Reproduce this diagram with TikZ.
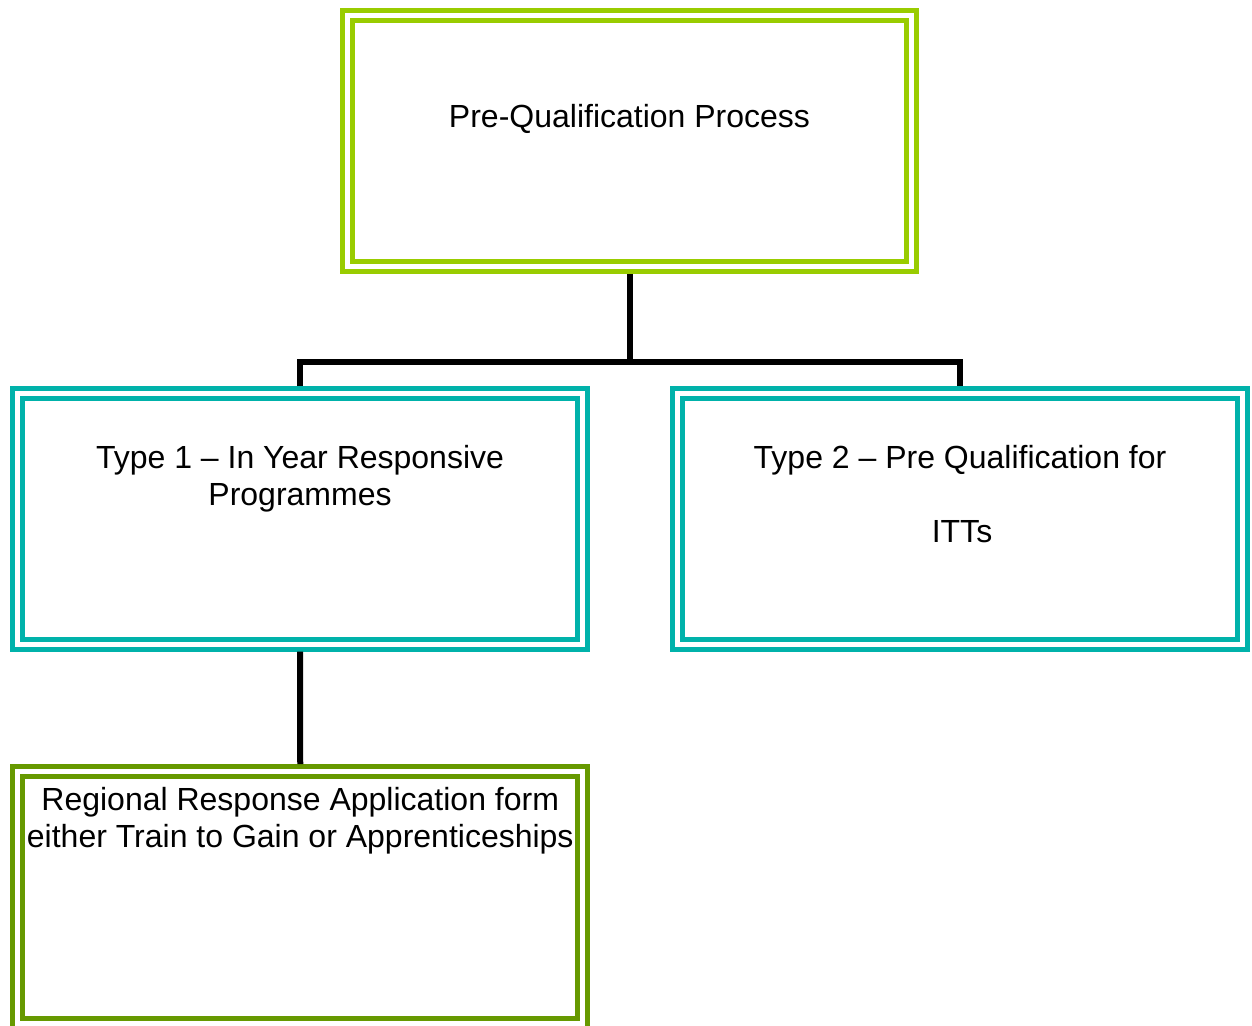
\documentclass[tikz,border=0pt]{standalone}
\usepackage{fontspec}
\setmainfont{Liberation Sans}
\definecolor{limegreen}{HTML}{99CC00}
\definecolor{tealbox}{HTML}{00B2AA}
\definecolor{olivegreen}{HTML}{669900}
\begin{document}
\begin{tikzpicture}[x=1pt,y=-1pt,
    frame/.style={draw, double=white, line width=5pt, double distance=5pt,
        minimum width=565pt, minimum height=250.5pt, inner sep=0pt, outer sep=7.5pt},
    txt/.style={align=center, inner sep=0pt, font=\fontsize{32}{37}\selectfont},
    link/.style={line width=6pt}]
    \useasboundingbox (0,0) rectangle (1252,1025);
    % boxes
    \node[frame, draw=limegreen, minimum width=564pt] (pq) at (629.5,141) {};
    \node[frame, draw=tealbox] (typeone) at (300,518.75) {};
    \node[frame, draw=tealbox] (typetwo) at (960,518.75) {};
    \node[frame, draw=olivegreen, minimum height=252pt] (regional) at (300.25,897.5) {};
    % texts
    \node[txt, anchor=base] (pqtext) at ([yshift=-118.75pt]pq.north) {Pre-Qualification Process};
    \node[txt, anchor=base] (onetext) at ([yshift=-119pt]typeone.north) {Type 1 -- In Year Responsive\\Programmes};
    \node[txt, anchor=base] (twotext) at ([yshift=-156pt]typetwo.north) {Type 2 -- Pre Qualification for\\[37pt]\hspace*{4pt}ITTs};
    \node[txt, anchor=base] (regtext) at ([yshift=-83pt]regional.north) {Regional Response Application form\\either Train to Gain or Apprenticeships};
    % connectors
    \coordinate (split) at (629.5,362);
    \draw[link] (pq.south) -- (split);
    \draw[link] (typeone.north) |- (split) -| (typetwo.north);
    \draw[link] (typeone.south) -- (regional.north);
\end{tikzpicture}
\end{document}
